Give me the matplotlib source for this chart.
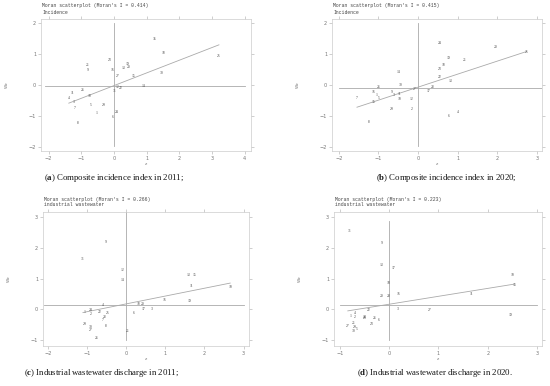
import matplotlib.pyplot as plt
import numpy as np

plt.rcParams['mathtext.fontset'] = 'custom'
plt.rcParams['mathtext.bf'] = 'Liberation Serif:bold'
plt.rcParams['mathtext.rm'] = 'Liberation Serif'

# (a) composite incidence index 2011
lab_a = ['35', '18', '25', '23', '21', '9', '16', '19', '13', '20', '30', '27', '15', '14',
         '12', '22', '31', '26', '11', '10', '4', '3', '5', '29', '7', '1', '24', '6', '8']
z_a = [1.26, 1.50, 3.21, -0.13, -0.81, -0.81, -0.03, 0.42, 0.28, 0.44, 1.45, 0.10, 0.61, 0.91,
       0.10, 0.20, 0.01, -0.95, -1.26, -0.74, -1.38, -1.22, -0.71, -0.32, -1.21, -0.54, 0.09, -0.03, -1.09]
wz_a = [1.49, 1.03, 0.93, 0.80, 0.66, 0.50, 0.48, 0.68, 0.55, 0.57, 0.39, 0.29, 0.29, -0.03,
        -0.08, -0.09, -0.19, -0.16, -0.27, -0.34, -0.43, -0.55, -0.65, -0.63, -0.74, -0.90, -0.87, -1.03, -1.22]

# (b) composite incidence index 2020
lab_b = ['24', '20', '25', '19', '21', '18', '23', '14', '22', '13', '30', '26', '28', '27', '17',
         '16', '9', '1', '3', '11', '5', '10', '12', '7', '15', '29', '2', '4', '6', '8']
z_b = [0.55, 1.96, 2.74, 0.76, 1.18, 0.64, 0.54, -0.50, 0.56, 0.82, -0.44, -0.98, 0.36, -0.08, 0.26,
       -1.13, -0.67, -1.04, -0.61, -0.48, -0.98, -0.47, -0.17, -1.54, -1.13, -0.66, -0.16, 1.01, 0.77, -1.25]
wz_b = [1.35, 1.23, 1.08, 0.87, 0.81, 0.65, 0.51, 0.43, 0.26, 0.12, 0.00, -0.05, -0.06, -0.13, -0.19,
        -0.21, -0.23, -0.32, -0.32, -0.30, -0.41, -0.45, -0.45, -0.43, -0.55, -0.76, -0.77, -0.87, -1.00, -1.20]

# (c) industrial wastewater 2011
lab_c = ['9', '31', '12', '14', '13', '15', '11', '10', '16', '19', '4', '18', '20', '17', '3', '6',
         '1', '24', '2', '22', '25', '28', '7', '29', '8', '30', '27', '21', '26']
z_c = [-0.51, -1.10, -0.09, -0.09, 1.59, 1.74, 1.66, 2.66, 0.97, 1.61, -0.58, 0.33, 0.43, 0.45, 0.66, 0.21,
       -1.07, -0.89, -0.91, -0.67, -0.47, -0.55, -0.59, -1.06, -0.52, -0.90, -0.91, 0.04, -0.76]
wz_c = [2.19, 1.63, 1.26, 0.95, 1.10, 1.10, 0.75, 0.73, 0.30, 0.27, 0.15, 0.18, 0.18, 0.03, 0.01, -0.10,
        -0.08, -0.03, -0.16, -0.08, -0.11, -0.25, -0.34, -0.48, -0.53, -0.57, -0.65, -0.71, -0.92]

# (d) industrial wastewater 2020
lab_d = ['31', '9', '13', '17', '18', '20', '28', '16', '10', '15', '11', '19', '27', '3', '22',
         '1', '4', '2', '24', '25', '26', '6', '23', '27', '21', '29', '5', '30']
z_d = [-0.81, -0.16, -0.16, 0.09, -0.01, -0.16, -0.01, 0.18, 2.50, 2.55, 1.67, 2.47, 0.83, 0.17, -0.41,
       -0.78, -0.69, -0.69, -0.49, -0.49, -0.29, -0.21, -0.35, -0.84, -0.72, -0.69, -0.66, -0.72]
wz_d = [2.52, 2.14, 1.43, 1.34, 0.87, 0.43, 0.43, 0.49, 1.10, 0.78, 0.51, -0.18, -0.02, 0.01, -0.01,
        -0.20, -0.11, -0.25, -0.24, -0.28, -0.28, -0.35, -0.47, -0.52, -0.43, -0.57, -0.63, -0.70]

morans = ['0.414', '0.415', '0.266', '0.223']
subtitles = ['Incidence', 'Incidence', 'industrial wastewater', 'industrial wastewater']
slopes = [0.41, 0.42, 0.253, 0.256]
intercepts = [-0.02, -0.07, 0.18, 0.17]
hline = [-0.03, -0.10, 0.15, 0.15]
captions = [('a', 'Composite incidence index in 2011;'),
            ('b', 'Composite incidence index in 2020;'),
            ('c', 'Industrial wastewater discharge in 2011;'),
            ('d', 'Industrial wastewater discharge in 2020.')]

W, H = 550, 386
fig = plt.figure(figsize=(5.5, 3.86), dpi=100)

# axes boxes in pixels: left, top, right, bottom
boxes = [(41, 19, 251, 151), (332, 19, 542, 151), (43, 212, 249, 346), (334, 212, 542, 346)]
xlims = [(-2.23, 4.19), (-2.17, 3.13), (-2.12, 3.14), (-1.12, 3.10)]
ylims = [(-2.13, 2.13), (-2.13, 2.13), (-1.18, 3.15), (-1.18, 3.15)]
xticks = [[-2, -1, 0, 1, 2, 3, 4], [-2, -1, 0, 1, 2, 3], [-2, -1, 0, 1, 2, 3], [-1, 0, 1, 2, 3]]
yticks = [[-2, -1, 0, 1, 2], [-2, -1, 0, 1, 2], [-1, 0, 1, 2, 3], [-1, 0, 1, 2, 3]]
hspan = [(-2.1, 4.0), (-2.0, 3.2), (-2.1, 3.0), (-1.0, 3.0)]
vspan = [(-1.97, 2.0), (-1.97, 2.0), (-1.0, 3.15), (-1.0, 2.85)]
cap_pos = [(114, 178), (446, 178), (102, 373), (435, 373)]

data = [(lab_a, z_a, wz_a), (lab_b, z_b, wz_b), (lab_c, z_c, wz_c), (lab_d, z_d, wz_d)]
lgray = '#aaaaaa'

for i in range(4):
    l, t, r, b = boxes[i]
    ax = fig.add_axes([l / W, 1 - b / H, (r - l) / W, (b - t) / H])
    labs, z, wz = data[i]
    for s, xv, yv in zip(labs, z, wz):
        ax.text(xv, yv, s, fontsize=2.7, color='#444444', ha='center', va='center',
                family='Liberation Serif')
    ax.plot(hspan[i], [hline[i], hline[i]], color=lgray, lw=0.6)
    ax.plot([0, 0], vspan[i], color=lgray, lw=0.6)
    xr = np.array([min(z), max(z)])
    ax.plot(xr, intercepts[i] + slopes[i] * xr, color=lgray, lw=0.6)
    ax.set_xlim(xlims[i])
    ax.set_ylim(ylims[i])
    ax.set_xticks(xticks[i])
    ax.set_yticks(yticks[i])
    ax.tick_params(direction='out', length=2, width=0.4, color=lgray, labelsize=3.6,
                   labelcolor='#777777', top=True, right=True, pad=1.5)
    for sp in ax.spines.values():
        sp.set_color('#cccccc')
        sp.set_linewidth(0.5)
    ax.set_xlabel('z', fontsize=3.2, color='#777777', labelpad=1)
    ax.set_ylabel('Wz', fontsize=3.2, color='#777777', labelpad=14)
    fig.text((l + 1) / W, 1 - (t - 13) / H, "Moran scatterplot (Moran's I = " + morans[i] + ")",
             fontsize=3.4, color='#444444', family='Liberation Mono', va='center')
    fig.text((l + 1) / W, 1 - (t - 7) / H, subtitles[i],
             fontsize=3.4, color='#444444', family='Liberation Mono', va='center')
    cx, cy = cap_pos[i]
    letter, txt = captions[i]
    fig.text(cx / W, 1 - cy / H, '($\\mathbf{' + letter + '}$) ' + txt, fontsize=6.3,
             family='Liberation Serif', ha='center', va='center', color='#111111')

fig.savefig('out.png', dpi=100)
